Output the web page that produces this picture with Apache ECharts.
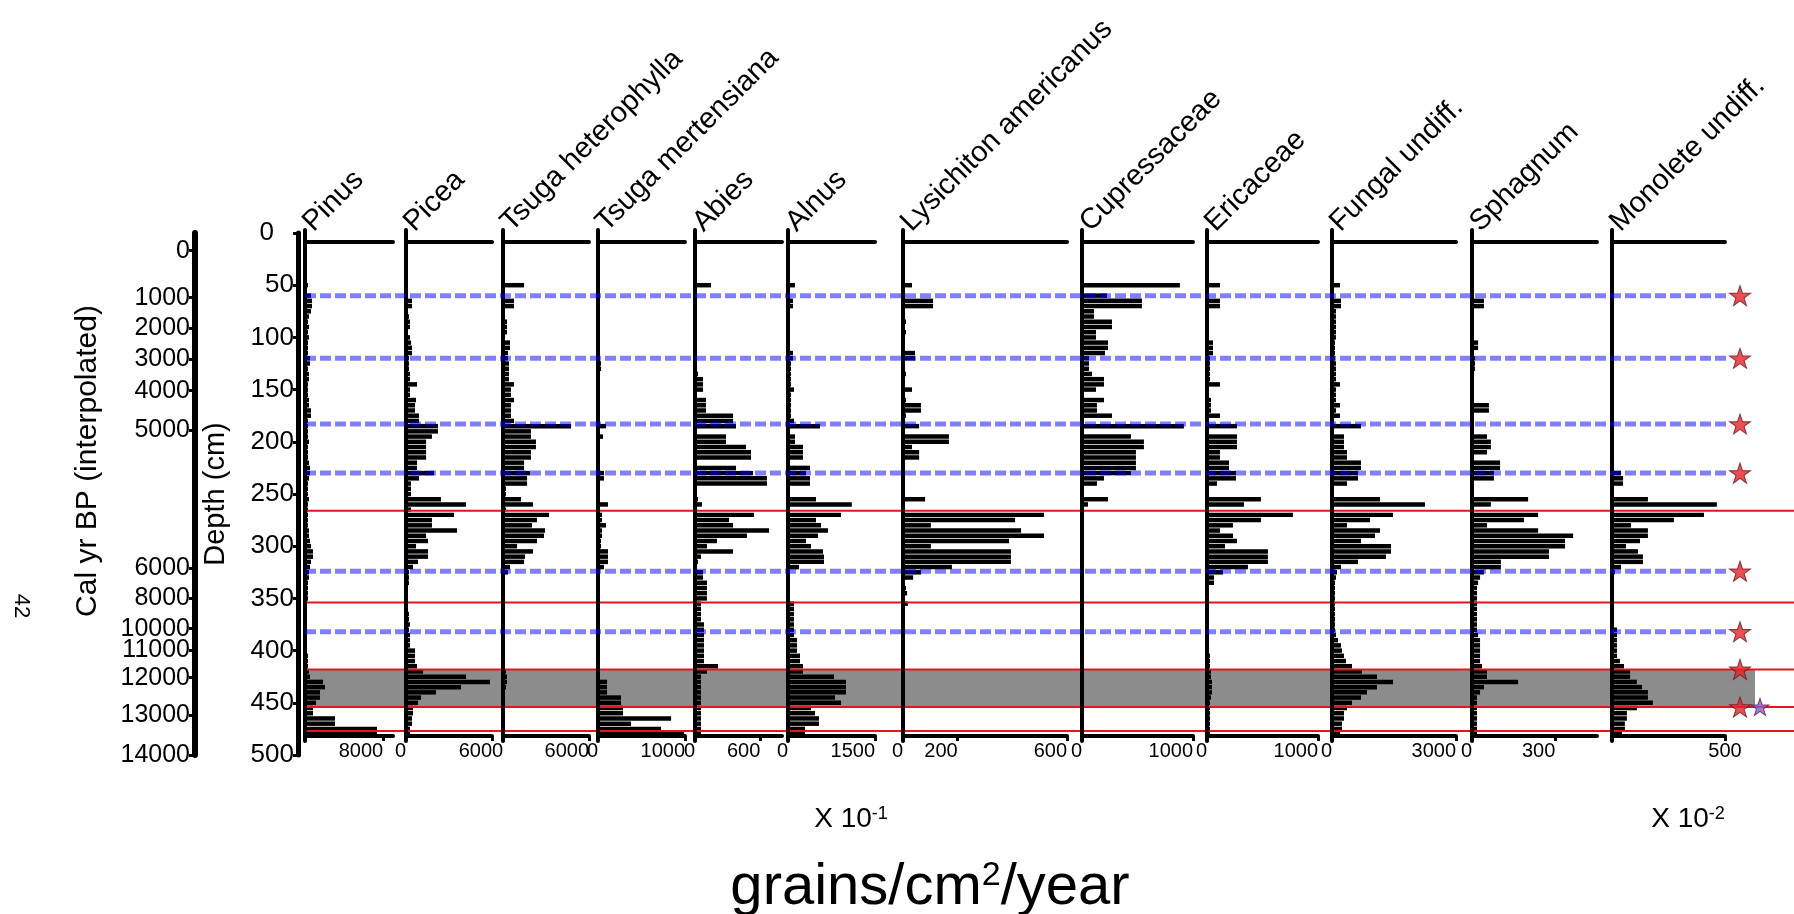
<!DOCTYPE html>
<html>
<head>
<meta charset="utf-8">
<script src="https://cdn.jsdelivr.net/npm/echarts@6/dist/echarts.min.js"></script>
<style>html,body{margin:0;padding:0;background:#fff}#c{width:1794px;height:914px}</style>
</head>
<body>
<div id="c"></div>
<script>
// ---------------- DATA ----------------
const depths = [50,55,60,65,70,75,80,85,90,95,100,105,110,115,120,125,130,135,140,145,150,155,160,165,170,175,180,185,190,195,200,205,210,215,220,225,230,235,240,245,250,255,260,265,270,275,280,285,290,295,300,305,310,315,320,325,330,335,340,345,350,355,360,365,370,375,380,385,390,395,400,405,410,415,420,425,430,435,440,445,450,455,460,465,470,475,480];

const taxa = ['Pinus','Picea','Tsuga heterophylla','Tsuga mertensiana','Abies','Alnus','Lysichiton americanus','Cupressaceae','Ericaceae','Fungal undiff.','Sphagnum','Monolete undiff.'];

const pinus = [307,205,614,716,716,614,409,307,409,307, 409,307,307,307,511,511,307,409,409,307, 307,307,409,409,614,614,307,307,307,307, 409,307,307,307,409,511,511,409,307,307, 307,409,307,307,307,307,307,409,409,511, 614,818,818,614,511,409,409,307,307,307, 307,205,205,205,205,205,205,205,205,205, 205,307,307,307,409,511,1841,2046,1534,1534, 1125,818,818,3070,3070,7360,7360];
const picea = [0,0,0,42,42,0,21,28,28,0, 28,35,42,42,21,21,21,28,28,77, 28,28,70,63,63,91,91,223,223,181, 140,140,140,140,77,77,195,91,35,35, 35,244,419,35,335,181,181,356,140,154, 70,154,154,84,49,21,21,21,14,14, 14,14,14,21,21,28,21,28,28,28, 63,63,63,77,119,419,586,384,209,105, 84,49,49,42,42,28,28];
const tsugaHet = [1470,0,0,770,770,0,140,280,280,280, 140,490,490,350,350,420,420,420,420,770, 560,560,770,560,560,560,770,4750,1950,1950, 2300,2300,1950,1950,1470,1470,1880,1680,1680,210, 210,1260,2090,210,3210,2370,2020,2930,2860,2370, 980,2090,1540,1470,490,350,140,140,140,140, 70,70,70,70,140,140,70,70,70,70, 70,70,70,140,210,280,280,210,140,70, 70,70,70,70,70,70,70];
const tsugaMert = [0,12,12,12,12,12,12,12,12,12, 12,12,12,12,12,35,35,12,12,12, 12,12,12,12,12,12,12,92,23,58, 23,23,23,23,23,23,69,69,23,23, 23,23,115,23,46,46,92,46,46,35, 35,115,115,115,69,12,12,12,12,12, 12,12,12,12,12,12,12,12,12,12, 12,12,12,12,12,12,104,104,104,265, 265,288,288,840,380,725,990];
const abies = [147,0,0,0,0,0,0,0,0,0, 0,0,0,18,18,0,0,28,74,74, 74,0,101,101,101,350,350,377,0,285, 285,469,515,515,0,377,534,662,662,0, 0,28,64,0,543,313,350,681,478,202, 110,350,55,28,0,74,74,110,110,110, 110,55,55,55,55,83,83,83,83,83, 83,83,83,212,110,55,55,55,55,55, 55,55,55,55,55,55,55];
const alnus = [121,0,0,86,86,34,34,34,34,34, 34,34,34,86,86,52,52,52,52,52, 103,52,52,52,52,52,103,552,0,121, 121,259,259,259,0,379,310,379,379,0, 0,483,1100,0,914,483,569,690,517,310, 397,603,621,621,190,34,34,34,34,34, 34,103,103,103,103,103,103,103,155,155, 155,207,207,259,259,793,1000,1000,1000,810, 914,397,466,534,534,293,293];
const lysichiton = [33,0,0,110,110,0,0,11,0,11, 0,0,0,44,44,0,0,11,0,0, 33,0,11,66,66,11,0,59,0,168, 168,33,59,59,0,0,0,0,0,0, 0,81,0,0,516,410,102,432,516,388, 102,395,395,395,179,66,37,0,11,15, 0,18,0,0,0,0,0,0,0,0, 0,0,0,0,0,0,0,0,0,0, 0,0,0,0,0,0,0];
const cupressaceae = [882,0,225,540,540,108,108,270,270,126, 126,234,234,207,63,63,63,90,198,198, 126,0,198,135,135,270,0,918,0,441, 558,558,486,486,486,486,441,198,135,0, 0,234,54,0,0,9,0,0,0,0, 0,0,0,0,0,0,0,0,0,0, 0,0,0,0,0,0,0,0,0,0, 0,0,0,0,0,0,0,0,0,0, 0,0,0,0,0,0,0];
const ericaceae = [117,0,0,117,117,0,18,18,18,18, 18,54,54,54,27,27,27,27,27,117, 18,18,36,36,36,117,0,270,0,270, 270,270,117,117,198,198,261,261,90,0, 0,486,333,0,774,486,234,117,234,270, 162,549,549,549,369,144,63,63,18,18, 18,18,18,18,18,18,18,18,18,18, 18,27,27,27,36,36,45,45,45,36, 27,27,27,27,27,27,27];
const fungal = [194,0,0,218,218,97,97,97,97,97, 97,73,73,73,73,97,97,97,97,194, 97,97,97,194,97,194,0,702,0,290, 290,290,363,363,702,702,629,629,363,0, 0,1162,2250,0,1476,920,363,1162,1041,702, 1428,1428,1307,629,218,121,97,73,73,73, 73,73,73,73,73,73,73,97,145,218, 242,290,339,484,726,1089,1476,1089,847,702, 484,363,290,290,242,242,194];
const sphagnum = [0,0,0,43,43,4,4,4,4,4, 4,22,22,4,11,11,11,4,4,4, 4,4,4,61,61,7,0,7,0,54, 68,68,54,7,101,101,79,79,7,0, 0,202,68,0,238,187,54,238,364,335, 335,277,277,104,104,43,29,22,18,18, 18,18,18,18,18,18,18,22,29,29, 29,29,29,36,54,54,166,43,29,18, 18,18,18,18,18,18,18];
const monolete = [0,0,0,0,0,0,0,0,0,0, 0,0,0,0,0,0,0,0,0,0, 0,0,0,0,0,0,0,0,0,0, 0,0,0,0,9,9,40,49,49,0, 0,159,464,0,407,274,84,159,159,124, 62,115,137,137,40,13,9,9,9,9, 9,9,9,9,9,9,22,22,22,22, 22,22,35,53,80,80,110,133,159,159, 181,110,66,66,57,57,44];

const seriesValues = [pinus, picea, tsugaHet, tsugaMert, abies, alnus, lysichiton, cupressaceae, ericaceae, fungal, sphagnum, monolete];
const axisMax = [9000, 600, 6000, 1000, 800, 1500, 600, 1000, 1000, 3000, 450, 500];
const tickLabels = [[8000],[0,600],[0,6000],[0,1000],[0,600],[0,1500],[0,200,600],[0,1000],[0,1000],[0,3000],[0,300],[500]];

const calYears  = [0,1000,2000,3000,4000,5000,6000,8000,10000,11000,12000,13000,14000];
const calDepths = [17,62,91.5,121,151,189,321,350,379,400,426,462,500];

const zoneDepths = [60,120,183,230,324,382];          // blue dashed lines
const redDepths  = [266,354,418,454,477];             // red lines
const grayBand   = [418,454];
const starDepths = [60,120,183,230,324,382,418,454];
const purpleStarDepths = [454];

// ---------------- LAYOUT ----------------
const FONT = "'Liberation Sans', Arial, Helvetica, sans-serif";
const Y0 = 233, Y500 = 755, PXCM = (Y500 - Y0) / 500;
const PANEL_TOP = 230, PANEL_BOT = 741;
const yMinP = (PANEL_TOP - Y0) / PXCM, yMaxP = (PANEL_BOT - Y0) / PXCM;
const panelLeft  = [305,406,503,598,695,788,903,1082,1207,1332,1472,1612];
const panelRight = [393,492,589,685,782,875,1067,1193,1318,1456,1597,1725];
const labelAlign = ['right','right','right','right','right','right','right','right','right','right','right','center'];
const HALF = 2.15;
const OV_LEFT = 305, OV_W = 1489;
const BLUE_END = 1728 - OV_LEFT, GRAY_END = 1755 - OV_LEFT;
const STAR_X = 1740 - OV_LEFT, PSTAR_X = 1760 - OV_LEFT;

const grids = [], xAxes = [], yAxes = [], series = [], texts = [];

function nearestIdx(arr, v){ let b=0; for(let i=1;i<arr.length;i++){ if(Math.abs(arr[i]-v)<Math.abs(arr[b]-v)) b=i; } return b; }

// Cal yr BP axis (grid 0)
grids.push({left:195, top:Y0, width:1, height:Y500-Y0, outerBoundsMode:'none'});
xAxes.push({gridIndex:0, show:false, min:0, max:1, axisLine:{onZero:false}});
yAxes.push({gridIndex:0, type:'value', min:0, max:500, inverse:true, position:'left', z:5,
  axisLine:{show:true, onZero:false, lineStyle:{color:'#000', width:6}},
  axisTick:{show:true, length:6, customValues:calDepths, lineStyle:{color:'#000', width:3}},
  axisLabel:{show:true, customValues:calDepths, margin:5, fontSize:25, color:'#000', fontFamily:FONT,
    formatter:v => String(calYears[nearestIdx(calDepths, v)])},
  splitLine:{show:false}});

// Depth axis (grid 1)
grids.push({left:298, top:Y0, width:1, height:Y500-Y0, outerBoundsMode:'none'});
xAxes.push({gridIndex:1, show:false, min:0, max:1, axisLine:{onZero:false}});
yAxes.push({gridIndex:1, type:'value', min:0, max:500, interval:50, inverse:true, position:'left', z:5,
  axisLine:{show:true, onZero:false, lineStyle:{color:'#000', width:5}},
  axisTick:{show:true, length:5, lineStyle:{color:'#000', width:3}},
  axisLabel:{show:true, margin:4, fontSize:26, color:'#000', fontFamily:FONT,
    formatter:v => v === 0 ? '{z|0}' : String(v),
    rich:{z:{fontSize:26, fontFamily:FONT, color:'#000', padding:[0,20,0,0]}}},
  splitLine:{show:false}});

// Panels
function barItem(params, api){
  const v = api.value(0), d = api.value(1);
  const a = api.coord([0, d - HALF]), b = api.coord([v, d + HALF]);
  return {type:'rect', shape:{x:a[0], y:a[1], width:b[0]-a[0], height:b[1]-a[1]}, style:{fill:'#000'}};
}
taxa.forEach((name, i) => {
  const g = grids.length;
  grids.push({left:panelLeft[i], top:PANEL_TOP, width:panelRight[i]-panelLeft[i], height:PANEL_BOT-PANEL_TOP, outerBoundsMode:'none'});
  const yIdx = yAxes.length;
  yAxes.push({gridIndex:g, type:'value', min:yMinP, max:yMaxP, inverse:true, position:'left', z:5,
    axisLine:{show:true, onZero:false, lineStyle:{color:'#000', width:4}},
    axisTick:{show:false}, axisLabel:{show:false}, splitLine:{show:false}});
  xAxes.push({gridIndex:g, type:'value', min:0, max:axisMax[i], position:'top', offset:-12, z:5,
    axisLine:{show:true, onZero:false, lineStyle:{color:'#000', width:4}},
    axisTick:{show:false}, axisLabel:{show:false}, splitLine:{show:false}});
  const xIdx = xAxes.length;
  xAxes.push({gridIndex:g, type:'value', min:0, max:axisMax[i], position:'bottom', offset:-5, z:5,
    axisLine:{show:true, onZero:false, lineStyle:{color:'#000', width:4}},
    axisTick:{show:true, length:5, customValues:tickLabels[i], lineStyle:{color:'#000', width:3}},
    axisLabel:{show:true, customValues:tickLabels[i], align:labelAlign[i], margin:5, fontSize:20, color:'#000', fontFamily:FONT, formatter:v => String(v)},
    splitLine:{show:false}});
  const vals = seriesValues[i];
  series.push({type:'custom', name:name, xAxisIndex:xIdx, yAxisIndex:yIdx, z:2, silent:true,
    encode:{x:0, y:1}, renderItem:barItem,
    data: vals.map((v, k) => [v, depths[k]]).filter(p => p[0] > 0)});
  texts.push({type:'text', x:panelLeft[i]+13, y:237, rotation:Math.PI/4, z:10,
    style:{text:name, fontSize:29, fontFamily:FONT, fill:'#000', align:'left', textAlign:'left', verticalAlign:'bottom', textVerticalAlign:'bottom'}});
});

// Overlay grid for zone lines, band and stars
const og = grids.length;
grids.push({left:OV_LEFT, top:Y0, width:OV_W, height:Y500-Y0, outerBoundsMode:'none'});
const oX = xAxes.length; xAxes.push({gridIndex:og, show:false, type:'value', min:0, max:OV_W, axisLine:{onZero:false}});
const oY = yAxes.length; yAxes.push({gridIndex:og, show:false, type:'value', min:0, max:500, inverse:true, axisLine:{onZero:false}});

series.push({type:'custom', xAxisIndex:oX, yAxisIndex:oY, z:1, silent:true, encode:{x:0, y:1},
  data:[[0, grayBand[0], grayBand[1]]],
  renderItem:(p, api) => { const a = api.coord([0, api.value(1)]), b = api.coord([GRAY_END, api.value(2)]);
    return {type:'rect', shape:{x:a[0], y:a[1], width:b[0]-a[0], height:b[1]-a[1]}, style:{fill:'#8c8c8c'}}; }});
series.push({type:'custom', xAxisIndex:oX, yAxisIndex:oY, z:3, silent:true, encode:{x:0, y:1},
  data:redDepths.map(d => [0, d]),
  renderItem:(p, api) => { const a = api.coord([0, api.value(1)]), b = api.coord([OV_W, api.value(1)]);
    return {type:'line', shape:{x1:a[0], y1:a[1], x2:b[0], y2:b[1]}, style:{stroke:'#e3161e', lineWidth:2}}; }});
series.push({type:'custom', xAxisIndex:oX, yAxisIndex:oY, z:6, silent:true, encode:{x:0, y:1},
  data:zoneDepths.map(d => [0, d]),
  renderItem:(p, api) => { const a = api.coord([0, api.value(1)]), b = api.coord([BLUE_END, api.value(1)]);
    return {type:'line', shape:{x1:a[0], y1:a[1], x2:b[0], y2:b[1]}, style:{stroke:'rgba(0,0,255,0.5)', lineWidth:5, lineDash:[11,4]}}; }});
const STAR = 'path://M50,0 L61.8,35.4 L99,35.4 L69,57.3 L80.4,92.7 L50,70.8 L19.6,92.7 L31,57.3 L1,35.4 L38.2,35.4 Z';
series.push({type:'scatter', xAxisIndex:oX, yAxisIndex:oY, z:7, silent:true, symbol:STAR, symbolSize:[21,20],
  itemStyle:{color:'#e8202a', borderColor:'#6b1a1a', borderWidth:1},
  data:starDepths.map(d => [STAR_X, d])});
series.push({type:'scatter', xAxisIndex:oX, yAxisIndex:oY, z:7, silent:true, symbol:STAR, symbolSize:[18,17],
  itemStyle:{color:'#9b55c4', borderColor:'#4a2a5a', borderWidth:1},
  data:purpleStarDepths.map(d => [PSTAR_X, d])});

// Titles and annotations
texts.push({type:'text', x:88, y:461, rotation:Math.PI/2,
  style:{text:'Cal yr BP (interpolated)', fontSize:30, fontFamily:FONT, fill:'#000', align:'center', textAlign:'center', verticalAlign:'middle', textVerticalAlign:'middle'}});
texts.push({type:'text', x:216, y:494, rotation:Math.PI/2,
  style:{text:'Depth (cm)', fontSize:29, fontFamily:FONT, fill:'#000', align:'center', textAlign:'center', verticalAlign:'middle', textVerticalAlign:'middle'}});
texts.push({type:'text', x:21, y:606, rotation:-Math.PI/2,
  style:{text:'42', fontSize:22, fontFamily:FONT, fill:'#000', align:'center', textAlign:'center', verticalAlign:'middle', textVerticalAlign:'middle'}});
texts.push({type:'text', x:851, y:819,
  style:{text:'{a|X 10}{s|-1}', align:'center', textAlign:'center', verticalAlign:'middle', textVerticalAlign:'middle',
    rich:{a:{fontSize:28, fontFamily:FONT, fill:'#000'}, s:{fontSize:18, fontFamily:FONT, fill:'#000', verticalAlign:'top'}}}});
texts.push({type:'text', x:1688, y:819,
  style:{text:'{a|X 10}{s|-2}', align:'center', textAlign:'center', verticalAlign:'middle', textVerticalAlign:'middle',
    rich:{a:{fontSize:28, fontFamily:FONT, fill:'#000'}, s:{fontSize:18, fontFamily:FONT, fill:'#000', verticalAlign:'top'}}}});
texts.push({type:'text', x:930, y:888,
  style:{text:'{a|grains/cm}{s|2}{a|/year}', align:'center', textAlign:'center', verticalAlign:'middle', textVerticalAlign:'middle',
    rich:{a:{fontSize:58, fontFamily:FONT, fill:'#000'}, s:{fontSize:34, fontFamily:FONT, fill:'#000', verticalAlign:'top'}}}});

const chart = echarts.init(document.getElementById('c'), null, {renderer:'canvas'});
chart.setOption({
  animation:false,
  backgroundColor:'#ffffff',
  grid:grids, xAxis:xAxes, yAxis:yAxes, series:series,
  graphic:{elements:texts}
});
</script>
</body>
</html>
